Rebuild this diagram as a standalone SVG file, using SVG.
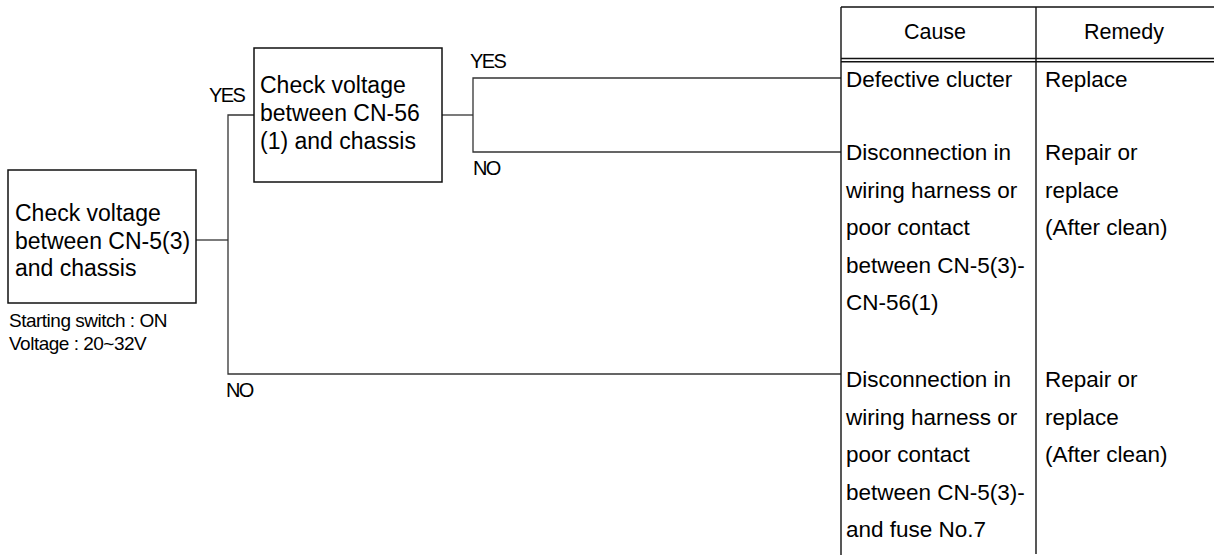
<svg xmlns="http://www.w3.org/2000/svg" width="1214" height="555" viewBox="0 0 1214 555">
<style>
text{font-family:"Liberation Sans",Arial,Helvetica,sans-serif;fill:#000}
.box{fill:#fff;stroke:#111;stroke-width:1.5}
.big{font-size:23px}
.tbl{font-size:22.5px}
.hdr{font-size:21.5px;text-anchor:middle}
.lbl{font-size:20px;letter-spacing:-1.6px}
.note{font-size:19px;letter-spacing:-0.5px}
.conn{fill:none;stroke:#333;stroke-width:1.3}
.rule{fill:none;stroke:#111;stroke-width:1.4}
</style>
<rect width="1214" height="555" fill="#fff"/>
<g id="connectors">
<polyline class="conn" points="196,240 228,240"/>
<polyline class="conn" points="254,115 228,115 228,374 841,374"/>
<polyline class="conn" points="442,115 473,115"/>
<polyline class="conn" points="841,78 473,78 473,152 841,152"/>
<text class="lbl" x="209" y="102">YES</text>
<text class="lbl" x="226" y="397">NO</text>
<text class="lbl" x="470" y="68">YES</text>
<text class="lbl" x="473" y="175">NO</text>
</g>
<g id="node-check-cn5">
<rect class="box" x="8" y="170" width="188" height="133"/>
<text class="big" x="15" y="221">Check voltage</text>
<text class="big" x="15" y="249">between CN-5(3)</text>
<text class="big" x="15" y="276">and chassis</text>
<text class="note" x="9" y="327">Starting switch : ON</text>
<text class="note" x="9" y="350">Voltage : 20~32V</text>
</g>
<g id="node-check-cn56">
<rect class="box" x="254" y="48" width="188" height="134"/>
<text class="big" x="260" y="93">Check voltage</text>
<text class="big" x="260" y="121">between CN-56</text>
<text class="big" x="260" y="149">(1) and chassis</text>
</g>
<g id="table">
<line class="rule" x1="841" y1="7" x2="1214" y2="7"/>
<line class="rule" x1="841" y1="7" x2="841" y2="555"/>
<line class="rule" x1="1036" y1="7" x2="1036" y2="554"/>
<line class="rule" x1="841" y1="58.5" x2="1214" y2="58.5"/>
<line class="rule" x1="841" y1="61.8" x2="1214" y2="61.8"/>
<text class="hdr" x="935" y="39">Cause</text>
<text class="hdr" x="1124" y="39">Remedy</text>
</g>
<g id="row-1">
<text class="tbl" x="846" y="87">Defective clucter</text>
<text class="tbl" x="1045" y="87">Replace</text>
</g>
<g id="row-2">
<text class="tbl" x="846" y="160">Disconnection in</text>
<text class="tbl" x="846" y="197.5">wiring harness or</text>
<text class="tbl" x="846" y="235">poor contact</text>
<text class="tbl" x="846" y="272.5">between CN-5(3)-</text>
<text class="tbl" x="846" y="310">CN-56(1)</text>
<text class="tbl" x="1045" y="160">Repair or</text>
<text class="tbl" x="1045" y="197.5">replace</text>
<text class="tbl" x="1045" y="235">(After clean)</text>
</g>
<g id="row-3">
<text class="tbl" x="846" y="387">Disconnection in</text>
<text class="tbl" x="846" y="424.5">wiring harness or</text>
<text class="tbl" x="846" y="462">poor contact</text>
<text class="tbl" x="846" y="499.5">between CN-5(3)-</text>
<text class="tbl" x="846" y="537">and fuse No.7</text>
<text class="tbl" x="1045" y="387">Repair or</text>
<text class="tbl" x="1045" y="424.5">replace</text>
<text class="tbl" x="1045" y="462">(After clean)</text>
</g>
</svg>
